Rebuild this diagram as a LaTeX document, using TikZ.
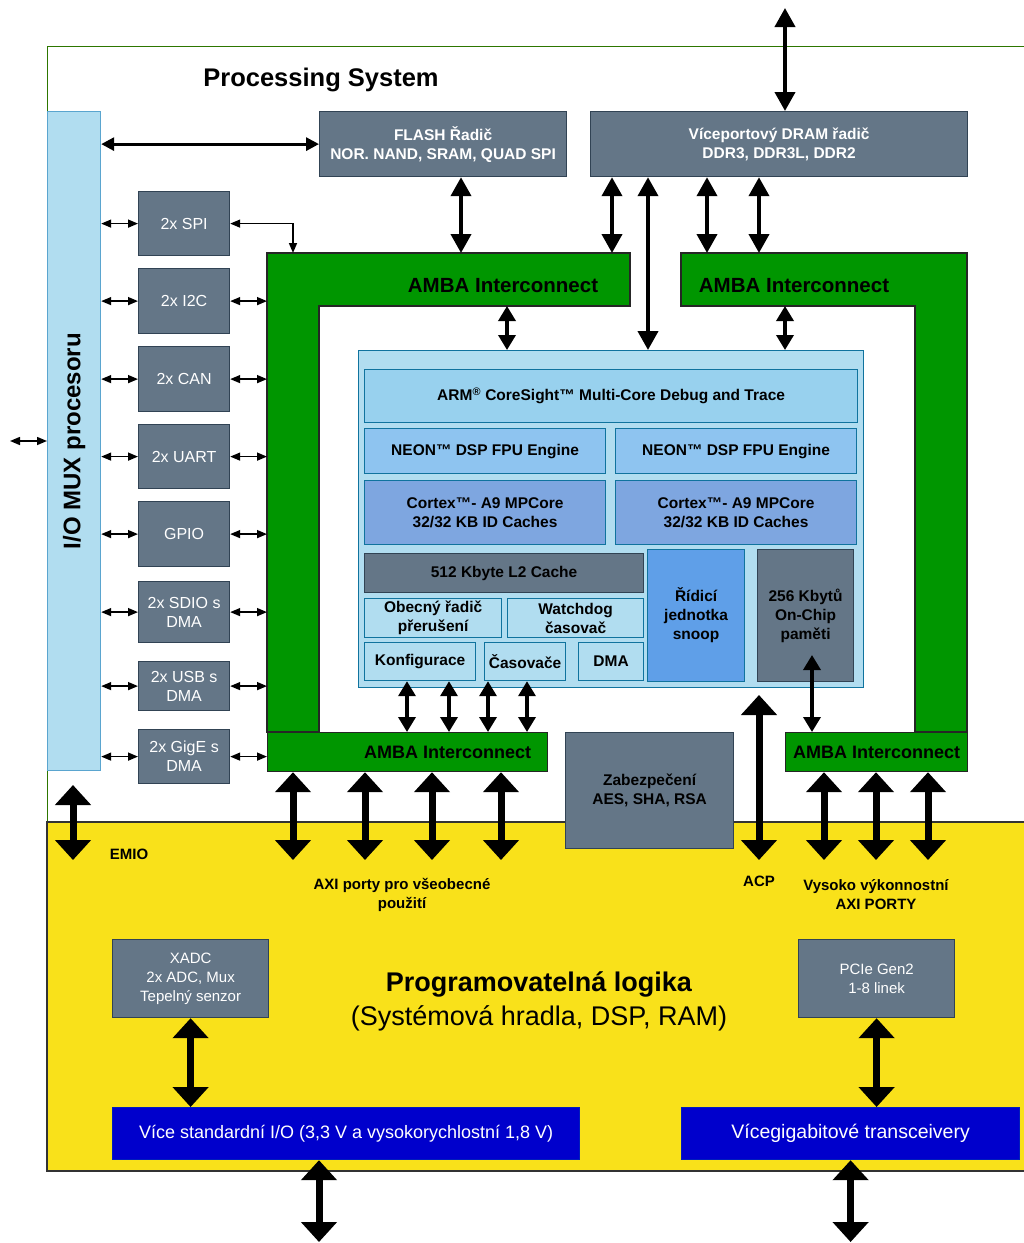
\documentclass[tikz,border=0pt]{standalone}
\usepackage{fontspec}
\setmainfont{Liberation Sans}
\usetikzlibrary{arrows.meta, positioning}

\definecolor{slate}{HTML}{647687}
\definecolor{slateln}{HTML}{314354}
\definecolor{coreblue}{HTML}{B1DDF0}
\definecolor{coreln}{HTML}{10739E}
\definecolor{csblue}{HTML}{98D1EE}
\definecolor{neonblue}{HTML}{8EC4F0}
\definecolor{cortexblue}{HTML}{7EA6E0}
\definecolor{snoopblue}{HTML}{5F9FE8}
\definecolor{ambagreen}{HTML}{009600}
\definecolor{plyellow}{HTML}{F9E11A}
\definecolor{iodblue}{HTML}{0000CC}
\definecolor{iodln}{HTML}{001DBC}
\definecolor{psframe}{HTML}{2D7600}
\definecolor{muxln}{HTML}{5AA5CF}

\newcommand{\fsz}[2]{\fontsize{#1}{#2}\selectfont}

\begin{document}
\begin{tikzpicture}[
  x=1pt, y=-1pt,
  every node/.style={font=\fsz{15}{19}},
  box/.style      = {draw, line width=1.2pt, anchor=north west, align=center, inner sep=1pt},
  slatebox/.style = {box, fill=slate, draw=slateln, text=white},
  darkbox/.style  = {box, fill=slate, draw=slateln, font=\bfseries\fsz{15.5}{19}},
  perbox/.style   = {slatebox, minimum width=91pt, font=\fsz{16}{19}},
  corebox/.style  = {box, draw=coreln, font=\bfseries\fsz{15.5}{19}},
  iobox/.style    = {box, fill=iodblue, draw=iodln, text=white, minimum height=52pt, font=\fsz{18}{22}},
  ambafill/.style = {fill=ambagreen, draw=black!85, line width=1.2pt},
  ambatxt/.style  = {font=\bfseries\fsz{20.5}{24}},
  lbl/.style      = {align=center, font=\bfseries\fsz{15}{19}},
  bigarr/.style   = {line width=7pt, {Triangle[width=35pt,length=20pt]}-{Triangle[width=35pt,length=20pt]}},
  medarr/.style   = {line width=4pt, {Triangle[width=20pt,length=19pt]}-{Triangle[width=20pt,length=19pt]}},
  midarr/.style   = {line width=3.5pt, {Triangle[width=17pt,length=15pt]}-{Triangle[width=17pt,length=15pt]}},
  flarr/.style    = {line width=3pt, {Triangle[width=13pt,length=13pt]}-{Triangle[width=13pt,length=13pt]}},
  smarr/.style    = {line width=1.5pt, {Triangle[width=8pt,length=10pt]}-{Triangle[width=8pt,length=10pt]}},
]
  \useasboundingbox (0,0) rectangle (1024,1243);
  \clip (0,0) rectangle (1024,1243);

  % processing system frame and programmable logic
  \draw[psframe, line width=1pt] (47,822) -- (47,46) -- (1030,46);
  \draw[fill=plyellow, draw=black!80, line width=1.5pt] (47,822) rectangle (1030,1171);
  \node[font=\bfseries\fsz{25.5}{30}] (ps) at (321,80) {Processing System};

  % I/O mux and peripherals
  \node[box, fill=coreblue, draw=muxln, minimum width=53pt, minimum height=659pt,
        label={[rotate=90, font=\bfseries\fsz{24}{28}]center:I/O MUX procesoru}] (mux) at (47,111) {};
  \foreach \n/\y/\h/\t in {spi/191/64/2x SPI, i2c/268/65/2x I2C, can/346/65/2x CAN, uart/424/64/2x UART,
                           gpio/501/65/GPIO, sdio/581/61/2x SDIO s\\DMA, usb/661/49/2x USB s\\DMA, gige/729/54/2x GigE s\\DMA}
    \node[perbox, minimum height=\h pt] (\n) at (138,\y) {\t};

  % memory controllers
  \node[slatebox, font=\bfseries\fsz{15.5}{19}, minimum width=247pt, minimum height=65pt] (flash) at (319,111) {FLASH Řadič\\NOR. NAND, SRAM, QUAD SPI};
  \node[slatebox, font=\bfseries\fsz{15.5}{19}, minimum width=377pt, minimum height=65pt] (dram) at (590,111) {Víceportový DRAM řadič\\DDR3, DDR3L, DDR2};

  % AMBA interconnects
  \draw[ambafill] (267,253) -- (630,253) -- (630,306) -- (319,306) -- (319,732) -- (267,732) -- cycle;
  \draw[ambafill] (681,253) -- (967,253) -- (967,732) -- (915,732) -- (915,306) -- (681,306) -- cycle;
  \coordinate (t1) at (267,253);  \coordinate (t1b) at (319,306);
  \coordinate (t2) at (681,253);  \coordinate (t2b) at (681,306);
  \node[ambatxt] (ambaT1) at (503,286) {AMBA Interconnect};
  \node[ambatxt] (ambaT2) at (794,286) {AMBA Interconnect};
  \node[box, fill=ambagreen, draw=black!85, minimum width=280pt, minimum height=39pt,
        label={[xshift=40pt, font=\bfseries\fsz{18}{22}]center:AMBA Interconnect}] (ambaB1) at (267,732) {};
  \node[box, fill=ambagreen, draw=black!85, minimum width=182pt, minimum height=39pt,
        font=\bfseries\fsz{18}{22}] (ambaB2) at (785,732) {AMBA Interconnect};

  % application processor unit
  \node[box, fill=coreblue, draw=coreln, minimum width=505pt, minimum height=337pt] (core) at (358,350) {};
  \node[corebox, fill=csblue, minimum width=493pt, minimum height=53pt] (cs) at (364,369) {ARM\textsuperscript{®} CoreSight™ Multi-Core Debug and Trace};
  \node[corebox, fill=neonblue, minimum width=241pt, minimum height=45pt] (neon1) at (364,428) {NEON™ DSP FPU Engine};
  \node[corebox, fill=neonblue, minimum width=241pt, minimum height=45pt] (neon2) at (615,428) {NEON™ DSP FPU Engine};
  \node[corebox, fill=cortexblue, minimum width=241pt, minimum height=64pt] (cortex1) at (364,480) {Cortex™- A9 MPCore\\32/32 KB ID Caches};
  \node[corebox, fill=cortexblue, minimum width=241pt, minimum height=64pt] (cortex2) at (615,480) {Cortex™- A9 MPCore\\32/32 KB ID Caches};
  \node[darkbox, minimum width=279pt, minimum height=39pt] (l2) at (364,553) {512 Kbyte L2 Cache};
  \node[corebox, fill=coreblue, minimum width=137pt, minimum height=39pt] (gic) at (364,598) {Obecný řadič\\přerušení};
  \node[corebox, fill=coreblue, minimum width=136pt, minimum height=39pt] (wdt) at (507,598) {Watchdog\\časovač};
  \node[corebox, fill=coreblue, minimum width=111pt, minimum height=38pt] (cfg) at (364,642) {Konfigurace};
  \node[corebox, fill=coreblue, minimum width=81pt, minimum height=38pt] (tmr) at (484,642) {Časovače};
  \node[corebox, fill=coreblue, minimum width=65pt, minimum height=38pt] (dma) at (578,642) {DMA};
  \node[corebox, fill=snoopblue, minimum width=97pt, minimum height=132pt] (snoop) at (647,549) {Řídicí\\jednotka\\snoop};
  \node[darkbox, minimum width=96pt, minimum height=132pt] (ocm) at (757,549) {256 Kbytů\\On-Chip\\paměti};

  \node[darkbox, minimum width=168pt, minimum height=116pt] (sec) at (565,732) {Zabezpečení\\AES, SHA, RSA};

  % programmable logic blocks
  \node[slatebox, minimum width=156pt, minimum height=78pt] (xadc) at (112,939) {XADC\\2x ADC, Mux\\Tepelný senzor};
  \node[slatebox, minimum width=156pt, minimum height=78pt] (pcie) at (798,939) {PCIe Gen2\\1-8 linek};
  \node[iobox, minimum width=467pt] (io) at (112,1107) {Více standardní I/O (3,3 V a vysokorychlostní 1,8 V)};
  \node[iobox, minimum width=338pt, font=\fsz{19.5}{22}] (trx) at (681,1107) {Vícegigabitové transceivery};
  \node[align=center, font=\fsz{27}{34}] (pl) at (539,1001) {\textbf{Programovatelná logika}\\(Systémová hradla, DSP, RAM)};

  \node[lbl] (emio) at (129,854) {EMIO};
  \node[lbl] (axig) at (402,895) {AXI porty pro všeobecné\\použití};
  \node[lbl] (acp) at (759,881) {ACP};
  \node[lbl] (axihp) at (876,895) {Vysoko výkonnostní\\AXI PORTY};

  % connectors
  \coordinate (ext) at (10,441);
  \draw[smarr] (ext) -- (ext -| mux.west);
  \foreach \n in {spi,i2c,can,uart,gpio,sdio,usb,gige}
    \draw[smarr] (mux.east |- \n.west) -- (\n.west);
  \foreach \n in {i2c,can,uart,gpio,sdio,usb,gige}
    \draw[smarr] (\n.east) -- (\n.east -| t1);
  \draw[smarr] (spi.east) -| (293,0 |- t1);
  \draw[flarr] (mux.east |- flash.west) -- (flash.west);

  \coordinate (memtop) at (785,8);
  \draw[medarr] (memtop) -- (memtop |- dram.north);
  \draw[medarr] (461,0 |- flash.south) -- (461,0 |- t1);
  \draw[medarr] (612,0 |- dram.south) -- (612,0 |- t1);
  \draw[medarr] (648,0 |- dram.south) -- (648,0 |- core.north);
  \foreach \x in {707,759} \draw[medarr] (\x,0 |- dram.south) -- (\x,0 |- t2);

  \draw[midarr] (507,0 |- t1b) -- (507,0 |- core.north);
  \draw[midarr] (785,0 |- t2b) -- (785,0 |- core.north);
  \foreach \x in {407,449,488,527} \draw[midarr] (\x,0 |- cfg.south) -- (\x,0 |- ambaB1.north);
  \coordinate (ocmtip) at (812,655);
  \draw[midarr] (ocmtip) -- (ocmtip |- ambaB2.north);

  \coordinate (plin) at (0,860);
  \foreach \x in {293,365,432,501} \draw[bigarr] (\x,0 |- ambaB1.south) -- (\x,0 |- plin);
  \foreach \x in {824,876,928} \draw[bigarr] (\x,0 |- ambaB2.south) -- (\x,0 |- plin);
  \coordinate (acp0) at (759,695);
  \draw[bigarr] (acp0) -- (acp0 |- plin);
  \coordinate (emio0) at (73,785);
  \draw[bigarr] (emio0) -- (emio0 |- plin);
  \draw[bigarr] (xadc.south) -- (xadc.south |- io.north);
  \draw[bigarr] (pcie.south) -- (pcie.south |- trx.north);
  \coordinate (pinsL) at (319,1242);
  \draw[bigarr] (pinsL |- io.south) -- (pinsL);
  \coordinate (pinsR) at (850,1242);
  \draw[bigarr] (trx.south) -- (trx.south |- pinsR);
\end{tikzpicture}
\end{document}
